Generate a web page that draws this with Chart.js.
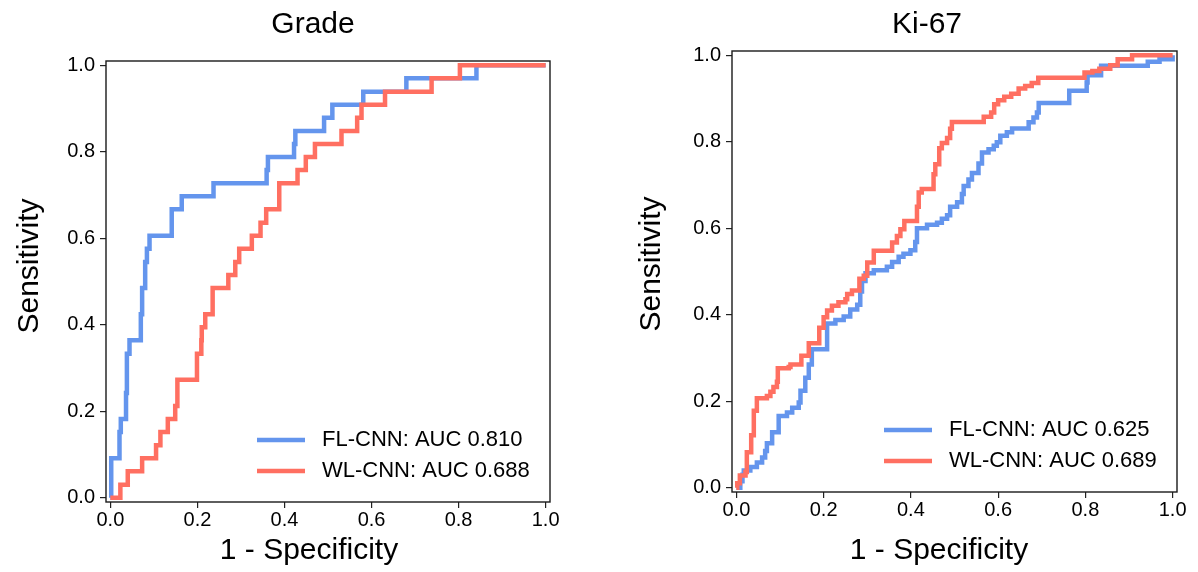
<!DOCTYPE html>
<html>
<head>
<meta charset="utf-8">
<script src="https://cdn.jsdelivr.net/npm/chart.js@4.4.0/dist/chart.umd.min.js"></script>
<style>
  html, body { margin: 0; padding: 0; background: #fff; }
  #contenedor { position: relative; width: 1198px; height: 572px; }
  canvas { position: absolute; top: 0; }
  #grafico_grade { left: 0; }
  #grafico_ki67 { left: 599px; }
</style>
</head>
<body>
<div id="contenedor">
  <canvas id="grafico_grade" width="599" height="572"></canvas>
  <canvas id="grafico_ki67" width="599" height="572"></canvas>
</div>
<script>
// valores de los ejes y leyendas
const valores_ticks = [0, 0.2, 0.4, 0.6, 0.8, 1.0];
const leyendas_grade = ["FL-CNN: AUC 0.810", "WL-CNN: AUC 0.688"];
const leyendas_ki67 = ["FL-CNN: AUC 0.625", "WL-CNN: AUC 0.689"];

// Grade - FL-CNN (1 - especificidad / sensibilidad)
const grade_fl_fpr = [0, 0.002, 0.021, 0.024, 0.036, 0.038, 0.044, 0.070, 0.073, 0.080, 0.084, 0.090, 0.141, 0.164, 0.237, 0.359, 0.362, 0.422, 0.425, 0.491, 0.510, 0.581, 0.680, 0.841, 1.0];
const grade_fl_tpr = [0, 0.091, 0.152, 0.182, 0.242, 0.333, 0.364, 0.424, 0.485, 0.545, 0.576, 0.606, 0.667, 0.697, 0.727, 0.758, 0.788, 0.818, 0.848, 0.879, 0.909, 0.939, 0.970, 1.0, 1.0];

// Grade - WL-CNN
const grade_wl_fpr = [0, 0.023, 0.040, 0.073, 0.105, 0.115, 0.132, 0.149, 0.154, 0.199, 0.209, 0.210, 0.218, 0.235, 0.271, 0.287, 0.296, 0.325, 0.345, 0.358, 0.388, 0.430, 0.449, 0.470, 0.531, 0.567, 0.577, 0.631, 0.738, 0.803, 1.0];
const grade_wl_tpr = [0, 0.030, 0.061, 0.091, 0.121, 0.152, 0.182, 0.212, 0.273, 0.333, 0.364, 0.394, 0.424, 0.485, 0.515, 0.545, 0.576, 0.606, 0.636, 0.667, 0.727, 0.758, 0.788, 0.818, 0.848, 0.879, 0.909, 0.939, 0.970, 1.0, 1.0];

// Ki-67 - FL-CNN
const ki67_fl_fpr = [0, 0.009, 0.014, 0.017, 0.032, 0.047, 0.059, 0.066, 0.070, 0.082, 0.097, 0.116, 0.128, 0.143, 0.147, 0.158, 0.166, 0.173, 0.208, 0.227, 0.246, 0.261, 0.277, 0.284, 0.288, 0.296, 0.315, 0.345, 0.357, 0.372, 0.383, 0.399, 0.410, 0.414, 0.437, 0.460, 0.471, 0.483, 0.490, 0.506, 0.517, 0.521, 0.532, 0.540, 0.555, 0.563, 0.578, 0.590, 0.597, 0.605, 0.620, 0.632, 0.670, 0.681, 0.689, 0.693, 0.763, 0.803, 0.805, 0.836, 0.943, 0.970, 1.0];
const ki67_fl_tpr = [0, 0.015, 0.030, 0.040, 0.048, 0.058, 0.070, 0.085, 0.103, 0.128, 0.166, 0.174, 0.185, 0.197, 0.224, 0.254, 0.285, 0.320, 0.380, 0.388, 0.396, 0.412, 0.423, 0.454, 0.478, 0.496, 0.503, 0.511, 0.522, 0.534, 0.541, 0.549, 0.568, 0.600, 0.608, 0.613, 0.622, 0.630, 0.650, 0.660, 0.679, 0.698, 0.713, 0.728, 0.750, 0.775, 0.783, 0.791, 0.799, 0.814, 0.822, 0.831, 0.845, 0.856, 0.868, 0.890, 0.918, 0.937, 0.954, 0.976, 0.985, 0.991, 1.0];

// Ki-67 - WL-CNN
const ki67_wl_fpr = [0, 0.002, 0.008, 0.021, 0.024, 0.034, 0.040, 0.047, 0.070, 0.078, 0.085, 0.093, 0.095, 0.120, 0.124, 0.149, 0.166, 0.190, 0.200, 0.208, 0.219, 0.234, 0.250, 0.254, 0.265, 0.282, 0.292, 0.300, 0.315, 0.357, 0.368, 0.376, 0.385, 0.414, 0.418, 0.425, 0.452, 0.456, 0.465, 0.471, 0.483, 0.490, 0.494, 0.567, 0.584, 0.591, 0.600, 0.614, 0.630, 0.647, 0.662, 0.677, 0.692, 0.798, 0.816, 0.832, 0.857, 0.874, 0.907, 1.0];
const ki67_wl_tpr = [0, 0.010, 0.028, 0.036, 0.082, 0.121, 0.178, 0.207, 0.212, 0.222, 0.233, 0.245, 0.276, 0.279, 0.285, 0.305, 0.334, 0.370, 0.394, 0.410, 0.421, 0.429, 0.436, 0.448, 0.456, 0.483, 0.490, 0.521, 0.548, 0.567, 0.582, 0.598, 0.617, 0.650, 0.683, 0.691, 0.725, 0.748, 0.785, 0.797, 0.809, 0.830, 0.846, 0.858, 0.868, 0.887, 0.896, 0.904, 0.911, 0.923, 0.929, 0.936, 0.948, 0.960, 0.964, 0.969, 0.977, 0.991, 1.0, 1.0];

const color_fl = "#6495ed";
const color_wl = "#ff6f61";
const fuente = "'Liberation Sans', Arial, sans-serif";

// marco de los ejes, titulos y leyenda dentro del area
const marco_y_textos = {
  id: "marco_y_textos",
  afterDraw(chart, args, opts) {
    const ctx = chart.ctx;
    const area = chart.chartArea;
    ctx.save();
    ctx.strokeStyle = "#1a1a1a";
    ctx.lineWidth = 1.4;
    ctx.strokeRect(area.left, area.top, area.right - area.left, area.bottom - area.top);

    ctx.fillStyle = "#000";
    ctx.textAlign = "center";
    ctx.textBaseline = "middle";
    ctx.font = "30px " + fuente;
    ctx.fillText(opts.titulo, opts.pos_titulo[0], opts.pos_titulo[1]);
    ctx.fillText("1 - Specificity", opts.pos_x[0], opts.pos_x[1]);
    ctx.translate(opts.pos_y[0], opts.pos_y[1]);
    ctx.rotate(-Math.PI / 2);
    ctx.fillText("Sensitivity", 0, 0);
    ctx.restore();

    ctx.save();
    ctx.font = "22px " + fuente;
    ctx.textAlign = "left";
    ctx.textBaseline = "middle";
    const texto_x = area.right - 228;
    chart.data.datasets.forEach((ds, i) => {
      const y = area.bottom - 62 + i * 31;
      ctx.strokeStyle = ds.borderColor;
      ctx.lineWidth = 4.5;
      ctx.beginPath();
      ctx.moveTo(texto_x - 65, y);
      ctx.lineTo(texto_x - 17, y);
      ctx.stroke();
      ctx.fillStyle = "#000";
      ctx.fillText(ds.label, texto_x, y);
    });
    ctx.restore();
  }
};

function armar_puntos(fpr, tpr) {
  return fpr.map((x, i) => ({ x: x, y: tpr[i] }));
}

function opciones_eje(ajuste) {
  return {
    type: "linear",
    min: -0.01,
    max: 1.01,
    afterFit: ajuste,
    afterBuildTicks: (eje) => {
      eje.ticks = valores_ticks.map((v) => ({ value: v }));
    },
    ticks: {
      callback: (v) => Number(v).toFixed(1),
      font: { size: 20, family: fuente },
      color: "#000",
      autoSkip: false,
      maxRotation: 0,
      padding: 5,
    },
    grid: {
      drawOnChartArea: false,
      drawTicks: true,
      tickLength: 6,
      color: "#222",
      lineWidth: 1.2,
    },
    border: { display: false },
  };
}

function pintar_roc(id_canvas, titulo, leyendas, fl, wl, caja, textos) {
  const eje_x = opciones_eje((e) => { e.height = caja.alto_x; });
  eje_x.ticks.padding = 0;
  const eje_y = opciones_eje((e) => { e.width = caja.ancho_y; });

  const config = {
    type: "line",
    data: {
      datasets: [
        {
          label: leyendas[0],
          data: fl,
          borderColor: color_fl,
          borderWidth: 4.5,
          pointRadius: 0,
          stepped: "before",
          fill: false,
          order: 1,
        },
        {
          label: leyendas[1],
          data: wl,
          borderColor: color_wl,
          borderWidth: 4.5,
          pointRadius: 0,
          stepped: "before",
          fill: false,
          order: 0,
        },
      ],
    },
    options: {
      responsive: false,
      animation: false,
      layout: { padding: caja.padding },
      plugins: {
        legend: { display: false },
        tooltip: { enabled: false },
        marco_y_textos: textos,
      },
      scales: { x: eje_x, y: eje_y },
    },
    plugins: [marco_y_textos],
  };
  new Chart(document.getElementById(id_canvas), config);
}

pintar_roc(
  "grafico_grade",
  "Grade",
  leyendas_grade,
  armar_puntos(grade_fl_fpr, grade_fl_tpr),
  armar_puntos(grade_wl_fpr, grade_wl_tpr),
  { padding: { left: 0, right: 49, top: 61, bottom: 0 }, ancho_y: 106, alto_x: 70 },
  { titulo: "Grade", pos_titulo: [313, 25], pos_x: [309, 551], pos_y: [30, 266] }
);

pintar_roc(
  "grafico_ki67",
  "Ki-67",
  leyendas_ki67,
  armar_puntos(ki67_fl_fpr, ki67_fl_tpr),
  armar_puntos(ki67_wl_fpr, ki67_wl_tpr),
  { padding: { left: 0, right: 21, top: 51, bottom: 0 }, ancho_y: 133, alto_x: 80 },
  { titulo: "Ki-67", pos_titulo: [328, 25], pos_x: [340, 551], pos_y: [53, 264] }
);
</script>
</body>
</html>
